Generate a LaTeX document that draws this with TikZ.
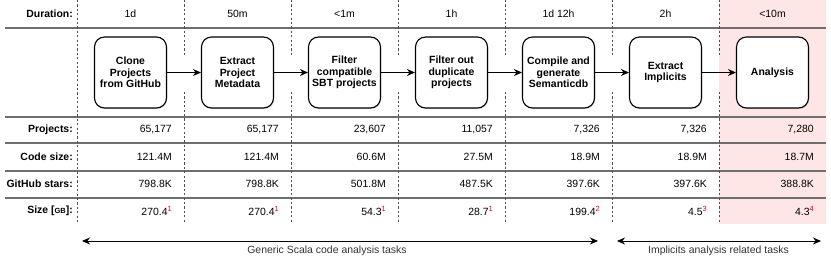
\documentclass[tikz,border=0pt]{standalone}
\usepackage{fontspec}
\setmainfont{Liberation Sans}
\usetikzlibrary{arrows.meta,positioning,shadows}
\definecolor{rowRule}{HTML}{6E6E6E}
\definecolor{colRule}{HTML}{505050}
\definecolor{lastCol}{HTML}{FFE6E6}
\definecolor{noteRed}{HTML}{E8000B}
\definecolor{spanText}{HTML}{333333}
\newcommand{\fnote}[1]{\raisebox{3.2bp}{\fontsize{7.5}{8}\selectfont\textcolor{noteRed}{#1}}}

\begin{document}
\begin{tikzpicture}[x=1bp,y=-1bp,font=\fontsize{10.5}{11.7}\selectfont,>={Stealth[length=8bp,width=7bp]},
 stage/.style={draw=black,line width=1.1bp,fill=white,rounded corners=10bp,minimum width=72bp,minimum height=71bp,
  inner sep=1bp,align=center,font=\fontsize{10.5}{11.7}\selectfont\bfseries,
  drop shadow={shadow xshift=.8bp,shadow yshift=-1.2bp,opacity=.25}},
 rowlabel/.style={anchor=east,inner sep=0pt,font=\fontsize{10.5}{11.7}\selectfont\bfseries},
 cell/.style={anchor=east,inner sep=0pt},
 colline/.style={colRule,line width=.9bp,dash pattern=on 2.2bp off 2.2bp}]
\useasboundingbox (0,0) rectangle (831,261);
\fill[lastCol] (719,0) rectangle (826,224);
% table rules
\foreach \y in {28,117,143,171,198}
 \draw[rowRule,line width=1.4bp] (5,\y)--(826,\y);
\draw[colline] (77,0)--(77,224);
\foreach \i in {1,...,6}{
 \draw[colline] (77+107*\i,0)--(77+107*\i,55);
 \draw[colline] (77+107*\i,92)--(77+107*\i,224);
}
% row labels
\foreach \y/\name in {14/Duration:,130/Projects:,157/Code size:,184/GitHub stars:,211/{Size [{\fontsize{7.5}{8}\selectfont GB}]:}}
 \node[rowlabel] (lbl\y) at (73,\y) {\name};
% one column per stage
\foreach \i/\dur/\proj/\code/\stars/\size in {
 0/1d/{65,177}/121.4M/798.8K/{270.4\fnote{1}},
 1/50m/{65,177}/121.4M/798.8K/{270.4\fnote{1}},
 2/<1m/{23,607}/60.6M/501.8M/{54.3\fnote{1}},
 3/1h/{11,057}/27.5M/487.5K/{28.7\fnote{1}},
 4/1d 12h/{7,326}/18.9M/397.6K/{199.4\fnote{2}},
 5/2h/{7,326}/18.9M/397.6K/{4.5\fnote{3}},
 6/<10m/{7,280}/18.7M/388.8K/{4.3\fnote{4}}}{
 \node (dur\i) at (130.5+107*\i,14) {\dur};
 \node[cell] (proj\i) at (172+107*\i,130) {\proj};
 \node[cell] (code\i) at (172+107*\i,157) {\code};
 \node[cell] (stars\i) at (172+107*\i,184) {\stars};
 \node[cell] (size\i) at (172+107*\i,211) {\size};
}
\node[stage] (clone) at (130.5,72.5) {Clone\\Projects\\from GitHub};
\node[stage] (meta) at (237.5,72.5) {Extract\\Project\\Metadata};
\node[stage] (sbt) at (344.5,72.5) {Filter\\compatible\\SBT projects};
\node[stage] (dedup) at (451.5,72.5) {Filter out\\duplicate\\projects};
\node[stage] (compile) at (558.5,72.5) {Compile and\\generate\\Semanticdb};
\node[stage] (implicits) at (665.5,72.5) {Extract\\Implicits};
\node[stage] (analysis) at (772.5,72.5) {Analysis};
\foreach \a/\b in {clone/meta,meta/sbt,sbt/dedup,dedup/compile,compile/implicits,implicits/analysis}
 \draw[->,line width=1bp] (\a)--(\b);
% task spans
\coordinate (genL) at (82,241);
\coordinate (genR) at (598,241);
\coordinate (impL) at (617,241);
\coordinate (impR) at (821,241);
\draw[<->,line width=1bp] (genL)--(genR);
\draw[<->,line width=1bp] (impL)--(impR);
\node[spanText] (genText) at (327,250.5) {Generic Scala code analysis tasks};
\node[spanText] (impText) at (718.5,250.5) {Implicits analysis related tasks};
\end{tikzpicture}
\end{document}
